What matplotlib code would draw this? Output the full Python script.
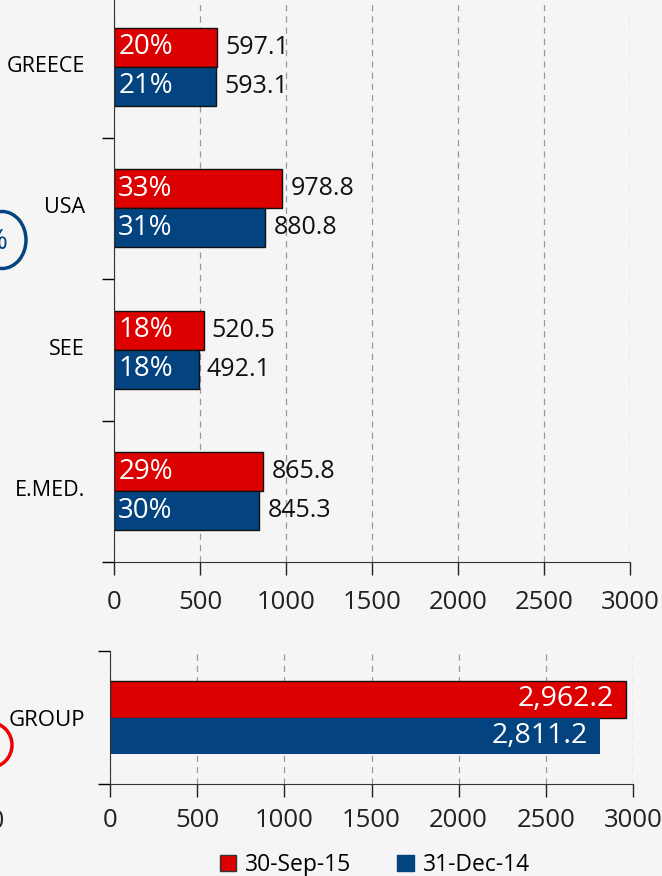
import numpy as np
import matplotlib.pyplot as plt
from matplotlib.patches import Patch, Ellipse

# data
regions = ['GREECE', 'USA', 'SEE', 'E.MED.']
sep15 = [597.1, 978.8, 520.5, 865.8]
dec14 = [593.1, 880.8, 492.1, 845.3]
sep15_pct = ['20%', '33%', '18%', '29%']
dec14_pct = ['21%', '31%', '18%', '30%']

group_label = ['GROUP']
group_sep15 = [2962.2]
group_dec14 = [2811.2]

legend_labels = ['30-Sep-15', '31-Dec-14']
x_ticks = [0, 500, 1000, 1500, 2000, 2500, 3000]

RED = '#dd0000'
BLUE = '#03437f'
BG = '#f5f5f5'

plt.rcParams['font.family'] = ['Open Sans', 'DejaVu Sans']

W, H = 662, 876
fig = plt.figure(figsize=(W / 100, H / 100), dpi=100, facecolor=BG)


def px_axes(left, top, right, bottom):
    return fig.add_axes([left / W, 1 - bottom / H, (right - left) / W, (bottom - top) / H])


def style_axes(ax, n, xpad):
    ax.set_facecolor('none')
    ax.set_xlim(0, 3000)
    ax.set_xticks(x_ticks)
    ax.set_ylim(n - 0.5, -0.5)
    ax.set_yticks(np.arange(n))
    ax.set_yticks(np.arange(n + 1) - 0.5, minor=True)
    ax.tick_params(axis='y', which='major', length=0, labelsize=15.5, pad=21)
    ax.tick_params(axis='y', which='minor', length=9, width=1, direction='out')
    ax.tick_params(axis='x', length=9, width=1, direction='out', labelsize=18.5, pad=xpad,
                   colors='#222222')
    for s in ['top', 'right']:
        ax.spines[s].set_visible(False)
    for s in ['left', 'bottom']:
        ax.spines[s].set_color('#333333')
    ax.grid(axis='x', linestyle=(0, (5, 4)), color='#999999', linewidth=0.9)
    ax.set_axisbelow(True)


h = 0.275

# regions chart
ax = px_axes(114, -4, 630, 562)
style_axes(ax, len(regions), 11)
ax.set_yticks(np.arange(len(regions)) - 0.02)
ax.set_yticklabels(regions)
y = np.arange(len(regions))
rb = ax.barh(y - h / 2, sep15, height=h, color=RED, edgecolor='#111111', linewidth=1)
bb = ax.barh(y + h / 2, dec14, height=h, color=BLUE, edgecolor='#111111', linewidth=1)
for bars, vals, pcts in [(rb, sep15, sep15_pct), (bb, dec14, dec14_pct)]:
    for b, v, p in zip(bars, vals, pcts):
        cy = b.get_y() + b.get_height() / 2
        ax.annotate(f'{v:.1f}', (v, cy), xytext=(6, 0), textcoords='offset points',
                    va='center', ha='left', fontsize=18, color='#111111')
        ax.annotate(p, (0, cy), xytext=(3, 0), textcoords='offset points',
                    va='center', ha='left', fontsize=20, color='white')

# group chart
ax2 = px_axes(110, 651, 633, 784)
style_axes(ax2, 1, 8)
ax2.set_yticklabels(group_label)
ax2.tick_params(axis='y', which='major', labelsize=16, pad=18)
rg = ax2.barh([-h / 2], group_sep15, height=h, color=RED, edgecolor='#111111', linewidth=1)
bg = ax2.barh([h / 2], group_dec14, height=h, color=BLUE)
for bars, vals in [(rg, group_sep15), (bg, group_dec14)]:
    for b, v in zip(bars, vals):
        cy = b.get_y() + b.get_height() / 2
        ax2.annotate(f'{v:,.1f}', (v, cy), xytext=(-9, 0), textcoords='offset points',
                     va='center', ha='right', fontsize=20.5, color='white')

# legend
handles = [Patch(facecolor=RED, edgecolor='#333333'), Patch(facecolor=BLUE, edgecolor=BLUE)]
fig.legend(handles, legend_labels, loc='center', bbox_to_anchor=(375 / W, 1 - 865 / H),
           ncol=2, frameon=False, fontsize=16.5, handlelength=0.7, handleheight=0.7,
           handletextpad=0.4, columnspacing=2.0)

# cut-off pieces of neighbouring charts at the left edge
fig.add_artist(Ellipse((2 / W, 1 - 240 / H), 48 / W, 57 / H, transform=fig.transFigure,
                       fill=False, edgecolor=BLUE, linewidth=2.5))
fig.text(7 / W, 1 - 242 / H, '%', ha='right', va='center', fontsize=20, color=BLUE)
fig.add_artist(Ellipse((-10 / W, 1 - 745 / H), 44 / W, 45 / H, transform=fig.transFigure,
                       fill=False, edgecolor='#ee0000', linewidth=2.5))
fig.text(4 / W, 1 - 822 / H, '0', ha='right', va='center', fontsize=18, color='#222222')

fig.savefig('out.png', dpi=100, facecolor=BG)
